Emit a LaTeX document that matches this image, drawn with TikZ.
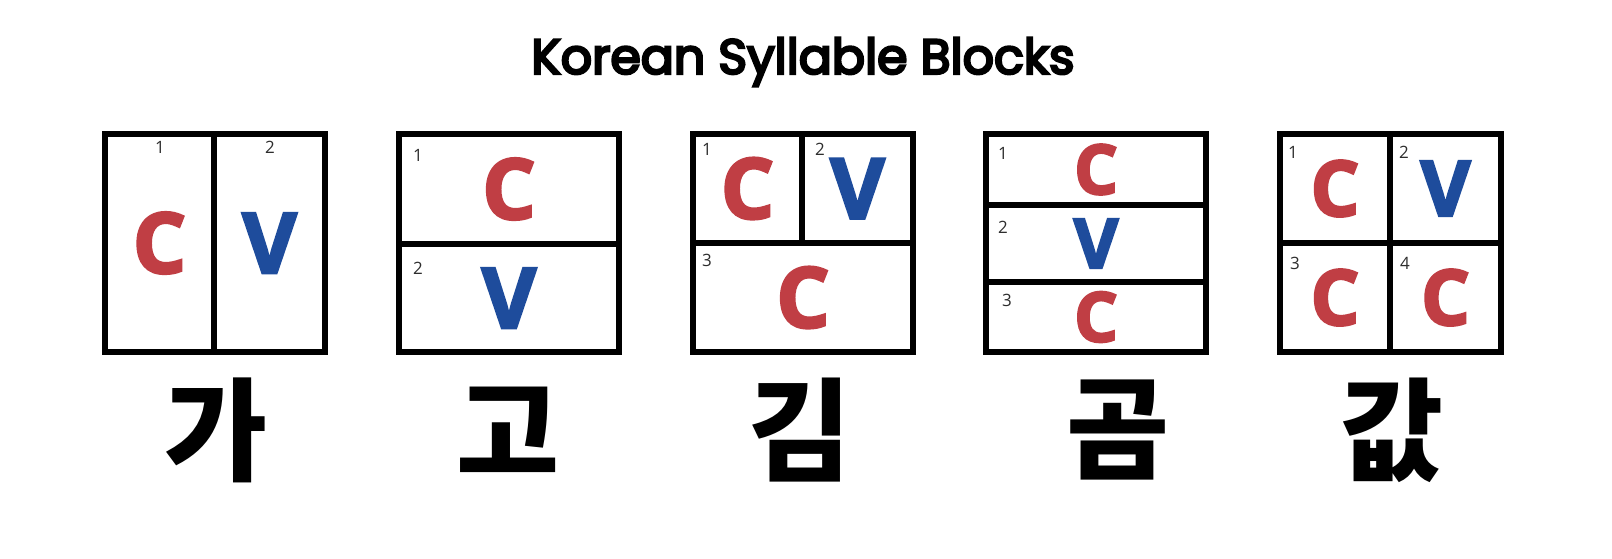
\documentclass[tikz,border=0pt]{standalone}
\usepackage{fontspec}
\setmainfont{Open Sans}
\newfontfamily\titlefont{Poppins}[FakeBold=5]
\newfontfamily\letterfont{Open Sans}[UprightFont={* Bold},UprightFeatures={FakeBold=3}]
\newfontfamily\hangul{Noto Sans CJK KR}
\definecolor{consred}{RGB}{192,62,68}
\definecolor{vowblue}{RGB}{30,76,156}
\definecolor{numgray}{RGB}{45,45,45}

\begin{document}
\begin{tikzpicture}[x=1pt,y=-1pt,
  cell/.style 2 args={draw,line width=5.5pt,inner sep=0,minimum width=#1pt,minimum height=#2pt},
  cons/.style={text=consred},vow/.style={text=vowblue},
  lg/.style={font=\letterfont\fontsize{84}{84}\selectfont},
  md/.style={font=\letterfont\fontsize{77}{77}\selectfont},
  sm/.style={font=\letterfont\fontsize{69}{69}\selectfont},
  num/.style={inner sep=0,text=numgray,font=\fontsize{17}{17}\selectfont},
  syl/.style={inner sep=0,font=\hangul\bfseries\fontsize{112}{112}\selectfont}]
\fill[white] (0,0) rectangle (1612,558);
\node[inner sep=0,font=\titlefont\fontsize{49}{49}\selectfont] (title) at (803,62) {Korean Syllable Blocks};
% ga
\node[cell={109}{218},cons,lg] (gaC) at (159.5,243) {C};
\node[cell={111}{218},vow,lg] (gaV) at (269.5,243) {V};
\node[num] (ga1) at (160,147) {1};
\node[num] (ga2) at (270,147) {2};
\node[syl] (ga) at (216,430) {가};
% go
\node[cell={220}{110},cons,lg] (goC) at (509,189) {C};
\node[cell={220}{108},vow,lg] (goV) at (509,298) {V};
\node[num] (go1) at (418,155) {1};
\node[num] (go2) at (418,268) {2};
\node[syl] (go) at (508,430) {고};
% gim
\node[cell={109}{109},cons,lg] (gimC1) at (747.5,188.5) {C};
\node[cell={111}{109},vow,lg] (gimV) at (857.5,188.5) {V};
\node[cell={220}{109},cons,lg] (gimC2) at (803,297.5) {C};
\node[num] (gim1) at (707,149) {1};
\node[num] (gim2) at (820,149) {2};
\node[num] (gim3) at (707,260) {3};
\node[syl] (gim) at (800,430) {김};
% gom
\node[cell={220}{71},cons,sm] (gomC1) at (1096,169.5) {C};
\node[cell={220}{77},vow,sm] (gomV) at (1096,243.5) {V};
\node[cell={220}{70},cons,sm] (gomC2) at (1096,317) {C};
\node[num] (gom1) at (1003,153) {1};
\node[num] (gom2) at (1003,227) {2};
\node[num] (gom3) at (1007,300) {3};
\node[syl] (gom) at (1118,430) {곰};
% gap
\node[cell={110}{109},cons,md] (gapC1) at (1335,188.5) {C};
\node[cell={111}{109},vow,md] (gapV) at (1445.5,188.5) {V};
\node[cell={110}{109},cons,md] (gapC2) at (1335,297.5) {C};
\node[cell={111}{109},cons,md] (gapC3) at (1445.5,297.5) {C};
\node[num] (gap1) at (1293,152) {1};
\node[num] (gap2) at (1404,152) {2};
\node[num] (gap3) at (1295,263) {3};
\node[num] (gap4) at (1405,263) {4};
\node[syl] (gap) at (1392,430) {값};
\end{tikzpicture}
\end{document}
